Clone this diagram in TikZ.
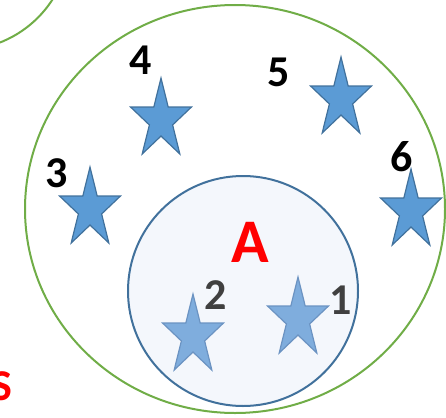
\documentclass[tikz,border=0pt]{standalone}
\usepackage{fontspec}
\setmainfont{Carlito}
\definecolor{grn}{HTML}{70AD47}
\definecolor{bdark}{HTML}{41719C}
\definecolor{bfill}{HTML}{5B9BD5}
\definecolor{lfill}{HTML}{7FADDD}
\definecolor{ldraw}{HTML}{6B93C2}
\definecolor{cfill}{HTML}{F4F7FC}
\definecolor{dgray}{HTML}{404040}
\newcommand\mystar[5]{%
  \draw[#5] ({#1+#3*cos(90)},{#2-#4*sin(90)})
    -- ({#1+0.382*#3*cos(126)},{#2-0.382*#4*sin(126)})
    -- ({#1+#3*cos(162)},{#2-#4*sin(162)})
    -- ({#1+0.382*#3*cos(198)},{#2-0.382*#4*sin(198)})
    -- ({#1+#3*cos(234)},{#2-#4*sin(234)})
    -- ({#1+0.382*#3*cos(270)},{#2-0.382*#4*sin(270)})
    -- ({#1+#3*cos(306)},{#2-#4*sin(306)})
    -- ({#1+0.382*#3*cos(342)},{#2-0.382*#4*sin(342)})
    -- ({#1+#3*cos(18)},{#2-#4*sin(18)})
    -- ({#1+0.382*#3*cos(54)},{#2-0.382*#4*sin(54)})
    -- cycle;}
\tikzset{
  darkstar/.style={fill=bfill, draw=bdark, line width=1.2pt, line join=miter},
  lightstar/.style={fill=lfill, draw=ldraw, line width=1.2pt, line join=miter},
  numlbl/.style={font=\fontsize{44}{44}\selectfont\bfseries, inner sep=0pt, text=black},
  innerlbl/.style={numlbl, text=dgray},
  redlbl/.style={font=\fontsize{62}{62}\selectfont\bfseries, inner sep=0pt, text=red}
}
\begin{document}
\begin{tikzpicture}[x=1pt,y=-1pt]
\useasboundingbox (0,0) rectangle (446,417);
\begin{scope}
\clip (0,0) rectangle (446,417);
\draw[grn, line width=2pt] (-40,-60) circle (110);
\draw[grn, line width=2pt] (235,209) ellipse (210 and 204);
\draw[bdark, fill=cfill, line width=2pt] (243,291) circle (115);
\node[font=\fontsize{44}{44}\selectfont\bfseries, inner sep=0pt, text=red] (S) at (1.5,386) {S};
\end{scope}
\node[redlbl] (A) at (250,242) {A};
\node[numlbl] (n4) at (141,60) {4};
\node[numlbl] (n5) at (279,72) {5};
\node[numlbl] (n3) at (57,173) {3};
\node[numlbl] (n6) at (402,157) {6};
\node[innerlbl] (n2) at (216,295) {2};
\node[innerlbl] (n1) at (341,300) {1};
\mystar{161}{120}{32}{42}{darkstar}
\mystar{90}{209}{32}{42}{darkstar}
\mystar{341}{99}{32}{42}{darkstar}
\mystar{411}{211}{32}{42}{darkstar}
\mystar{193}{336}{32}{42}{lightstar}
\mystar{298}{319}{32}{42}{lightstar}
\end{tikzpicture}
\end{document}
